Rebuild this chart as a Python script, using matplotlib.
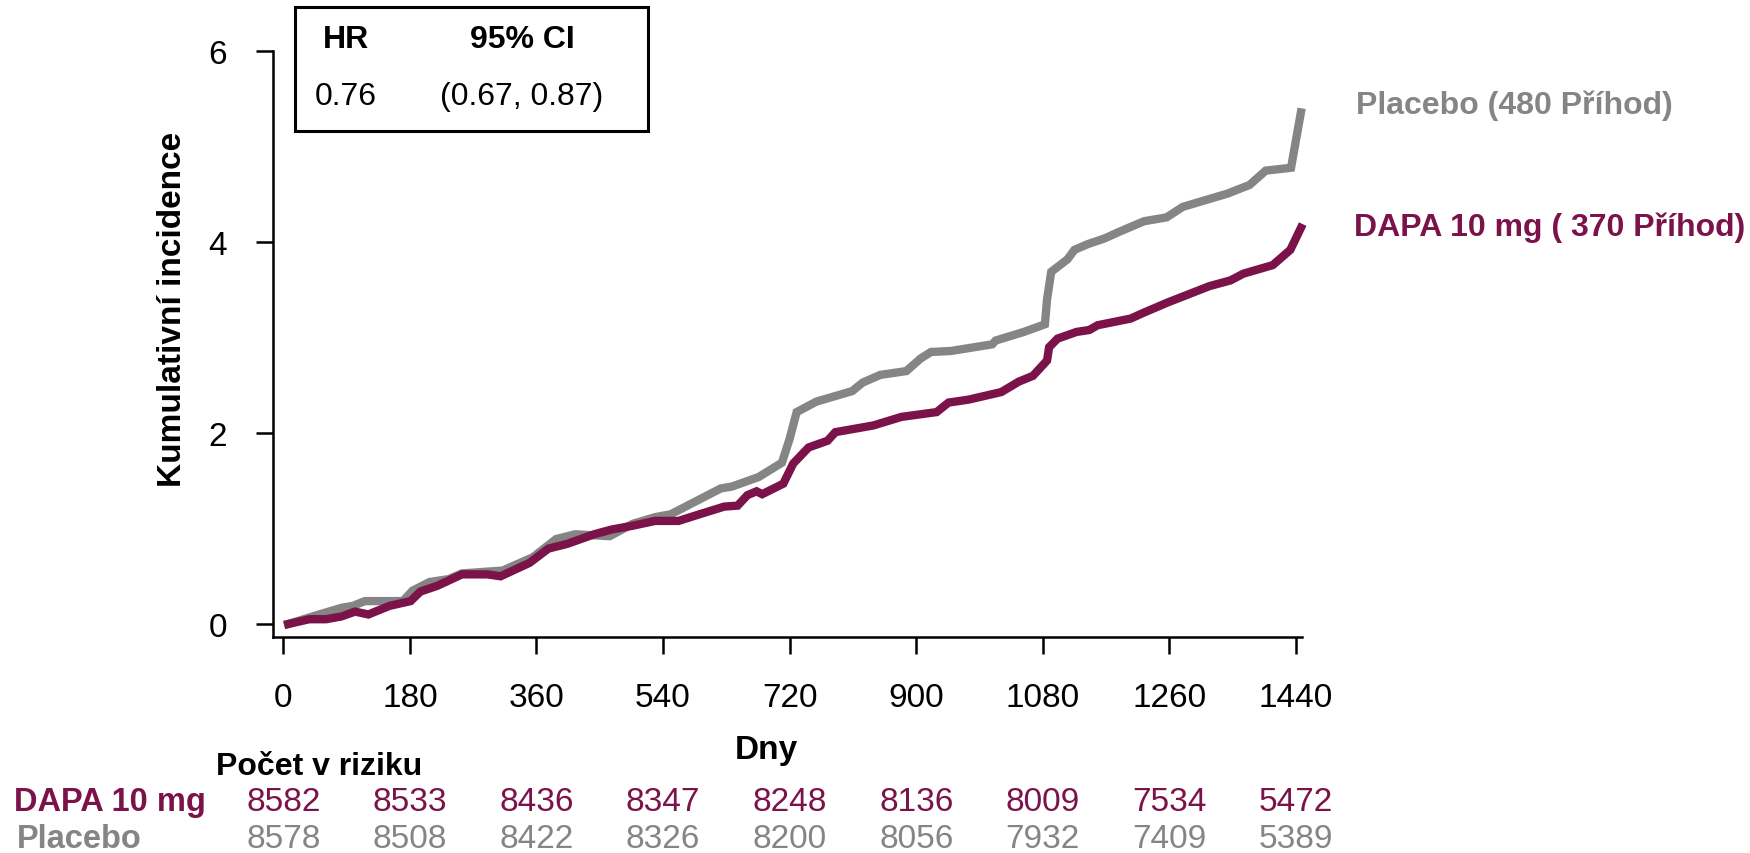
import matplotlib
matplotlib.use("Agg")
import matplotlib.pyplot as plt
import matplotlib.transforms as mtransforms
from matplotlib.patches import Rectangle

plt.rcParams['font.family'] = ['Liberation Sans', 'DejaVu Sans']

# cumulative incidence (day, %)
dapa_days = [7, 37, 61, 83, 102, 121, 151, 181, 195, 219, 254, 290, 309, 350, 377,
             404, 442, 467, 497, 529, 562, 592, 627, 646, 660, 673, 681, 711, 725,
             747, 774, 785, 839, 879, 929, 946, 974, 1021, 1046, 1066, 1086, 1089,
             1101, 1128, 1146, 1158, 1205, 1223, 1258, 1317, 1347, 1365, 1407, 1432, 1447]
dapa_vals = [0.0, 0.05, 0.05, 0.08, 0.13, 0.10, 0.19, 0.24, 0.34, 0.40, 0.52, 0.52, 0.50,
             0.64, 0.79, 0.84, 0.94, 0.99, 1.03, 1.08, 1.08, 1.15, 1.23, 1.24, 1.35, 1.39,
             1.36, 1.47, 1.68, 1.85, 1.92, 2.01, 2.08, 2.17, 2.22, 2.32, 2.35, 2.43, 2.54,
             2.60, 2.76, 2.90, 2.99, 3.06, 3.08, 3.13, 3.20, 3.26, 3.37, 3.54, 3.60, 3.67,
             3.76, 3.92, 4.15]

placebo_days = [7, 51, 83, 99, 116, 170, 184, 208, 235, 254, 312, 355, 388, 415, 464,
                497, 529, 551, 622, 638, 676, 709, 720, 730, 758, 809, 824, 849, 886, 906,
                921, 949, 1008, 1013, 1053, 1083, 1086, 1092, 1115, 1125, 1144, 1168, 1189,
                1224, 1256, 1279, 1311, 1343, 1374, 1397, 1433, 1447]
placebo_vals = [0.0, 0.10, 0.17, 0.19, 0.24, 0.24, 0.35, 0.44, 0.47, 0.53, 0.56, 0.70,
                0.89, 0.94, 0.92, 1.05, 1.12, 1.15, 1.42, 1.44, 1.54, 1.69, 1.94, 2.22,
                2.33, 2.44, 2.53, 2.61, 2.65, 2.78, 2.85, 2.86, 2.93, 2.97, 3.06, 3.14,
                3.40, 3.69, 3.82, 3.92, 3.98, 4.04, 4.11, 4.22, 4.26, 4.37, 4.44, 4.51,
                4.60, 4.75, 4.78, 5.36]

risk_days = [0, 180, 360, 540, 720, 900, 1080, 1260, 1440]
risk_dapa = [8582, 8533, 8436, 8347, 8248, 8136, 8009, 7534, 5472]
risk_placebo = [8578, 8508, 8422, 8326, 8200, 8056, 7932, 7409, 5389]

MAROON = '#7b1249'
GREY = '#858585'
FS = 24

W, H = 1750, 854
def fx(px):
    return px / W
def fy(py):
    return 1 - py / H

fig = plt.figure(figsize=(17.5, 8.54), dpi=100)
ax = fig.add_axes([fx(273.3), fy(637.7), (1301.6 - 273.3) / W, (637.7 - 52.3) / H])

ax.plot(placebo_days, placebo_vals, color=GREY, lw=6, solid_joinstyle='miter', clip_on=False)
ax.plot(dapa_days, dapa_vals, color=MAROON, lw=6, solid_joinstyle='miter', clip_on=False)

ax.set_xlim(-14.2, 1448)
ax.set_ylim(-0.133, 6)
ax.set_xticks(risk_days)
ax.set_yticks([0, 2, 4, 6])
for s in ['top', 'right']:
    ax.spines[s].set_visible(False)
for s in ['left', 'bottom']:
    ax.spines[s].set_linewidth(1.8)
ax.tick_params(axis='both', length=12.5, width=1.8, labelsize=FS)
ax.tick_params(axis='x', pad=20)
ax.tick_params(axis='y', pad=21)

fig.text(fx(172.5), fy(309), 'Kumulativní incidence', rotation=90, ha='center',
         va='center', fontsize=FS, fontweight='bold')
fig.text(fx(766), fy(759), 'Dny', ha='center', va='baseline', fontsize=FS, fontweight='bold')

# HR box
fig.patches.append(Rectangle((fx(294.5), fy(132)), (648 - 294.5) / W, (132 - 8.3) / H,
                             transform=fig.transFigure, fill=False, lw=2.2, edgecolor='black'))
fig.text(fx(346), fy(40), 'HR', ha='center', va='center', fontsize=23, fontweight='bold')
fig.text(fx(522), fy(40), '95% CI', ha='center', va='center', fontsize=23, fontweight='bold')
fig.text(fx(346), fy(97), '0.76', ha='center', va='center', fontsize=23)
fig.text(fx(522), fy(97), '(0.67, 0.87)', ha='center', va='center', fontsize=23)

# curve labels
fig.text(fx(1356), fy(114), 'Placebo (480 Příhod)', color=GREY, ha='left', va='baseline',
         fontsize=23, fontweight='bold')
fig.text(fx(1354), fy(236), 'DAPA 10 mg ( 370 Příhod)', color=MAROON, ha='left',
         va='baseline', fontsize=23, fontweight='bold')

# risk table
fig.text(fx(216), fy(775), 'Počet v riziku', ha='left', va='baseline', fontsize=23,
         fontweight='bold')
fig.text(fx(14), fy(811), 'DAPA 10 mg', color=MAROON, ha='left', va='baseline',
         fontsize=23.5, fontweight='bold')
fig.text(fx(17), fy(848), 'Placebo', color=GREY, ha='left', va='baseline',
         fontsize=23.5, fontweight='bold')
tr = mtransforms.blended_transform_factory(ax.transData, fig.transFigure)
for d, a, p in zip(risk_days, risk_dapa, risk_placebo):
    ax.text(d, fy(811), str(a), transform=tr, color=MAROON, ha='center', va='baseline',
            fontsize=FS, clip_on=False)
    ax.text(d, fy(848), str(p), transform=tr, color=GREY, ha='center', va='baseline',
            fontsize=FS, clip_on=False)

fig.savefig('out.png', dpi=100)
